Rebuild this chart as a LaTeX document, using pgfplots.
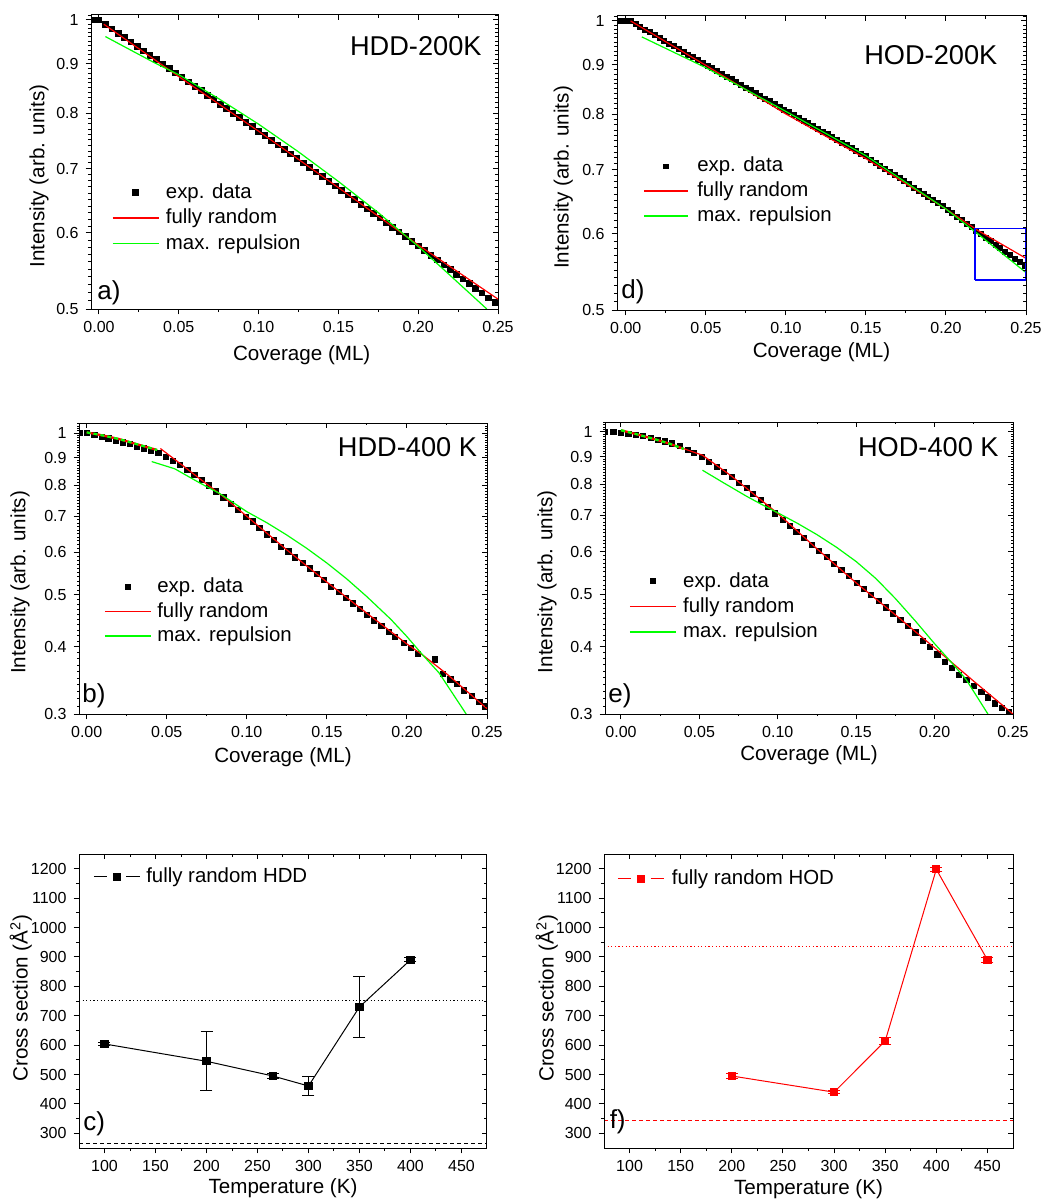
\documentclass[border=0pt]{standalone}
\usepackage{fontspec}
\setmainfont{Liberation Sans}
\usepackage{pgfplots}
\pgfplotsset{compat=1.18}
\newcommand{\fs}[1]{\fontsize{#1}{#1}\selectfont}
\pgfplotsset{
  zcommon/.style={scale only axis, anchor=south west, clip marker paths=true,
    axis line style={line width=0.5pt}, tick style={line width=0.5pt, black},
    major tick length=2.7pt, minor tick length=1.6pt,
    tick label style={font=\fs{8}}, label style={font=\fs{10.3}}},
  zbase/.style={zcommon, tick align=outside, xtick pos=left, ytick pos=left},
  zovl/.style={zcommon, tick align=inside, xtick pos=right, ytick pos=right, xticklabels={}, yticklabels={}},
  zcovx/.style={xmax=0.25, xtick={0,0.05,0.1,0.15,0.2,0.25}, minor xtick={0.025,0.075,0.125,0.175,0.225}},
  zcovlab/.style={xticklabels={0.00,0.05,0.10,0.15,0.20,0.25}, xlabel={Coverage (ML)}, ylabel={Intensity (arb. units)}},
  zlogA/.style={ymin=0.5, ymax=1.012, ytick={0.5,0.6,0.7,0.8,0.9,1}, minor ytick={0.51,0.52,0.53,0.54,0.55,0.56,0.57,0.58,0.59,0.61,0.62,0.63,0.64,0.65,0.66,0.67,0.68,0.69,0.71,0.72,0.73,0.74,0.75,0.76,0.77,0.78,0.79,0.81,0.82,0.83,0.84,0.85,0.86,0.87,0.88,0.89,0.91,0.92,0.93,0.94,0.95,0.96,0.97,0.98,0.99,1.01}},
  zlogAlab/.style={yticklabels={0.5,0.6,0.7,0.8,0.9,1}},
  zlogB/.style={ymin=0.3, ytick={0.3,0.4,0.5,0.6,0.7,0.8,0.9,1}, minor tick length=1pt, minor ytick={0.31,0.32,0.33,0.34,0.35,0.36,0.37,0.38,0.39,0.41,0.42,0.43,0.44,0.45,0.46,0.47,0.48,0.49,0.51,0.52,0.53,0.54,0.55,0.56,0.57,0.58,0.59,0.61,0.62,0.63,0.64,0.65,0.66,0.67,0.68,0.69,0.71,0.72,0.73,0.74,0.75,0.76,0.77,0.78,0.79,0.81,0.82,0.83,0.84,0.85,0.86,0.87,0.88,0.89,0.91,0.92,0.93,0.94,0.95,0.96,0.97,0.98,0.99,1.01,1.02,1.03,1.04}},
  zlogBlab/.style={yticklabels={0.3,0.4,0.5,0.6,0.7,0.8,0.9,1}},
  ztx/.style={xmin=75, xmax=475, xtick={100,150,200,250,300,350,400,450}, minor xtick={125,175,225,275,325,375,425}, ymin=250, ymax=1250, ytick={300,400,500,600,700,800,900,1000,1100,1200}, minor ytick={350,450,550,650,750,850,950,1050,1150}},
  ztxlab/.style={xticklabels={100,150,200,250,300,350,400,450}, yticklabels={300,400,500,600,700,800,900,1000,1100,1200}, xlabel={Temperature (K)}, ylabel={Cross section (\AA\textsuperscript{2})}},
  zlg/.style={legend cell align=left,
    legend style={draw=none, fill=none, inner sep=0pt, outer sep=0pt, anchor=north west, font=\fs{10.2}, nodes={inner sep=0pt, outer sep=0pt}, column sep=3.3pt}}
}
\begin{document}
\begin{tikzpicture}
\useasboundingbox (0,0) rectangle (529pt,-600.5pt);

% ---------------- panel a
\begin{axis}[zbase, ymode=log, at={(45.5pt,-154.5pt)}, width=203.5pt, height=147pt, xmin=-0.005, zcovx, zlogA, zcovlab, zlogAlab,
  xlabel style={at={(axis description cs:0.5177,-0.1565)}, anchor=center},
  ylabel style={at={(axis description cs:-0.1278,0.452)}, anchor=center},
  zlg, legend style={at={(0.0509,0.4259)}, row sep=3.8pt},
  legend image code/.code={\draw[mark repeat=2,mark phase=2,#1] plot coordinates {(0pt,0pt) (11.5pt,0pt) (23pt,0pt)};}]
\addlegendimage{only marks, mark=square*, mark size=1.4pt, black}
\addlegendentry{exp. data}
\addlegendimage{red, line width=0.8pt}
\addlegendentry{fully random}
\addlegendimage{green, line width=0.8pt}
\addlegendentry{max. repulsion}
\addplot[only marks, mark=square*, mark size=1.4pt, black, forget plot] coordinates {(-0.004,1.0)(0,1.0)(0.004,0.9896)(0.008,0.9792)(0.012,0.969)(0.016,0.9588)(0.02,0.9488)(0.024,0.9388)(0.028,0.9289)(0.032,0.9192)(0.036,0.9095)(0.04,0.8999)(0.044,0.8903)(0.048,0.8809)(0.052,0.8716)(0.056,0.8623)(0.06,0.8532)(0.064,0.8441)(0.068,0.8351)(0.072,0.8262)(0.076,0.8173)(0.08,0.8086)(0.084,0.7999)(0.088,0.7913)(0.092,0.7828)(0.096,0.7744)(0.1,0.7661)(0.104,0.7578)(0.108,0.7496)(0.112,0.7415)(0.116,0.7335)(0.12,0.7255)(0.124,0.7176)(0.128,0.7098)(0.132,0.7021)(0.136,0.6944)(0.14,0.6868)(0.144,0.6793)(0.148,0.6719)(0.152,0.6645)(0.156,0.6572)(0.16,0.65)(0.164,0.6429)(0.168,0.6358)(0.172,0.6288)(0.176,0.6219)(0.18,0.615)(0.184,0.6081)(0.188,0.6014)(0.192,0.5947)(0.196,0.5881)(0.2,0.5816)(0.204,0.5751)(0.208,0.5687)(0.212,0.5623)(0.216,0.556)(0.22,0.5498)(0.224,0.5436)(0.228,0.5375)(0.232,0.5315)(0.236,0.5255)(0.24,0.5196)(0.244,0.5137)(0.248,0.5079)};
\addplot[red, line width=0.6pt, forget plot] coordinates {(0.003,0.990)(0.05,0.873)(0.10,0.766)(0.15,0.669)(0.20,0.583)(0.25,0.512)};
\addplot[green, line width=0.6pt, forget plot] coordinates {(0.004,0.961)(0.035,0.902)(0.05,0.877)(0.075,0.828)(0.10,0.779)(0.125,0.729)(0.15,0.679)(0.175,0.630)(0.20,0.581)(0.22,0.542)(0.243,0.500)};
\end{axis}
\begin{axis}[zovl, ymode=log, at={(45.5pt,-154.5pt)}, width=203.5pt, height=147pt, xmin=-0.005, zcovx, zlogA]
\end{axis}

% ---------------- panel d
\begin{axis}[zbase, ymode=log, at={(308.5pt,-155pt)}, width=204.5pt, height=147pt, xmin=-0.0055, zcovx, zlogA, zcovlab, zlogAlab,
  xlabel style={at={(axis description cs:0.5,-0.1418)}, anchor=center},
  ylabel style={at={(axis description cs:-0.1313,0.4507)}, anchor=center},
  zlg, legend style={at={(0.0643,0.5197)}, row sep=3.55pt, column sep=4.5pt},
  legend image code/.code={\draw[mark repeat=2,mark phase=2,#1] plot coordinates {(0pt,0pt) (10.85pt,0pt) (21.7pt,0pt)};}]
\addlegendimage{only marks, mark=square*, mark size=1.1pt, black}
\addlegendentry{exp. data}
\addlegendimage{red, line width=0.8pt}
\addlegendentry{fully random}
\addlegendimage{green, line width=0.8pt}
\addlegendentry{max. repulsion}
\addplot[only marks, mark=square*, mark size=1.25pt, black, forget plot] coordinates {(-0.003,1.0)(0,1.0)(0.003,0.999)(0.006,0.9924)(0.009,0.9859)(0.012,0.9794)(0.015,0.973)(0.018,0.9666)(0.021,0.9602)(0.024,0.9539)(0.027,0.9476)(0.03,0.9414)(0.033,0.9352)(0.036,0.929)(0.039,0.9229)(0.042,0.9169)(0.045,0.9108)(0.048,0.9048)(0.051,0.8989)(0.054,0.893)(0.057,0.8871)(0.06,0.8813)(0.063,0.8755)(0.066,0.8697)(0.069,0.864)(0.072,0.8583)(0.075,0.8527)(0.078,0.847)(0.081,0.8415)(0.084,0.8359)(0.087,0.8304)(0.09,0.825)(0.093,0.8196)(0.096,0.8142)(0.099,0.8088)(0.102,0.8035)(0.105,0.7982)(0.108,0.7929)(0.111,0.7877)(0.114,0.7825)(0.117,0.7774)(0.12,0.7723)(0.123,0.7672)(0.126,0.7621)(0.129,0.7571)(0.132,0.7521)(0.135,0.7472)(0.138,0.7423)(0.141,0.7374)(0.144,0.7326)(0.147,0.7277)(0.15,0.7229)(0.153,0.7175)(0.156,0.7122)(0.159,0.7069)(0.162,0.7016)(0.165,0.6964)(0.168,0.6912)(0.171,0.686)(0.174,0.6809)(0.177,0.6758)(0.18,0.6708)(0.183,0.6657)(0.186,0.6608)(0.189,0.6558)(0.192,0.6509)(0.195,0.646)(0.198,0.6412)(0.201,0.6362)(0.204,0.6309)(0.207,0.6256)(0.21,0.6204)(0.213,0.6152)(0.216,0.61)(0.219,0.6049)(0.222,0.5999)(0.225,0.5949)(0.228,0.5899)(0.231,0.585)(0.234,0.5801)(0.237,0.5752)(0.24,0.5704)(0.243,0.5657)(0.246,0.5609)(0.249,0.5562)};
\addplot[red, line width=0.6pt, forget plot] coordinates {(0.003,1.0)(0.05,0.899)(0.10,0.800)(0.15,0.719)(0.20,0.637)(0.22,0.605)(0.25,0.566)};
\addplot[green, line width=0.6pt, forget plot] coordinates {(0.010,0.9625)(0.05,0.894)(0.10,0.805)(0.15,0.724)(0.20,0.637)(0.22,0.600)(0.25,0.547)};
\addplot[blue, line width=0.75pt, forget plot] coordinates {(0.2182,0.537)(0.25,0.537)(0.25,0.608)(0.2182,0.608)(0.2182,0.537)};
\end{axis}
\begin{axis}[zovl, ymode=log, at={(308.5pt,-155pt)}, width=204.5pt, height=147pt, xmin=-0.0055, zcovx, zlogA]
\end{axis}

% ---------------- panel b
\begin{axis}[zbase, ymode=log, at={(39.5pt,-357pt)}, width=204pt, height=145.5pt, xmin=-0.0048, ymax=1.044, zcovx, zlogB, zcovlab, zlogBlab,
  xlabel style={at={(axis description cs:0.5,-0.1467)}, anchor=center},
  ylabel style={at={(axis description cs:-0.1446,0.452)}, anchor=center},
  zlg, legend style={at={(0.0613,0.468)}, row sep=3.4pt, column sep=2.85pt},
  legend image code/.code={\draw[mark repeat=2,mark phase=2,#1] plot coordinates {(0pt,0pt) (11.5pt,0pt) (23pt,0pt)};}]
\addlegendimage{only marks, mark=square*, mark size=1.3pt, black}
\addlegendentry{exp. data}
\addlegendimage{red, line width=0.8pt}
\addlegendentry{fully random}
\addlegendimage{green, line width=0.8pt}
\addlegendentry{max. repulsion}
\addplot[only marks, mark=square*, mark size=1.3pt, black, forget plot] coordinates {(-0.0042,1.0)(0,1.0)(0.0048,0.991)(0.0094,0.984)(0.0135,0.977)(0.0181,0.968)(0.0225,0.961)(0.0271,0.953)(0.0313,0.944)(0.0358,0.936)(0.04,0.928)(0.0448,0.918)(0.0494,0.904)(0.0538,0.887)(0.0583,0.873)(0.0629,0.855)(0.0673,0.836)(0.0719,0.819)(0.0765,0.799)(0.0808,0.779)(0.0854,0.759)(0.09,0.738)(0.0946,0.72)(0.0994,0.699)(0.1038,0.685)(0.1079,0.667)(0.1125,0.648)(0.1171,0.633)(0.1215,0.615)(0.126,0.602)(0.1302,0.587)(0.1348,0.574)(0.1392,0.56)(0.1438,0.547)(0.1479,0.533)(0.1527,0.518)(0.1573,0.506)(0.1619,0.493)(0.1663,0.482)(0.1708,0.47)(0.175,0.459)(0.1796,0.448)(0.184,0.438)(0.1885,0.427)(0.1927,0.417)(0.1979,0.407)(0.2025,0.398)(0.2069,0.388)(0.2177,0.379)(0.2223,0.356)(0.2271,0.348)(0.2313,0.341)(0.2358,0.332)(0.2406,0.324)(0.2452,0.316)(0.249,0.31)};
\addplot[red, line width=0.6pt, forget plot] coordinates {(0.046,0.936)(0.06,0.870)(0.07,0.825)(0.085,0.763)(0.10,0.700)(0.125,0.606)(0.15,0.528)(0.175,0.462)(0.20,0.405)(0.21,0.386)(0.225,0.356)(0.25,0.307)};
\addplot[green, line width=0.6pt, forget plot] coordinates {(0.0406,0.885)(0.055,0.858)(0.0708,0.807)(0.083,0.772)(0.10,0.714)(0.1125,0.681)(0.125,0.646)(0.1375,0.610)(0.15,0.573)(0.1625,0.535)(0.175,0.496)(0.19,0.450)(0.20,0.418)(0.21,0.386)(0.22,0.358)(0.237,0.300)};
\addplot[red, line width=1.1pt, forget plot] coordinates {(0,1.003)(0.01,0.990)(0.02,0.975)(0.03,0.956)(0.044,0.930)};
\addplot[green, line width=1.1pt, dash pattern=on 2pt off 1.5pt, forget plot] coordinates {(0,1.003)(0.01,0.990)(0.02,0.975)(0.03,0.956)(0.044,0.930)};
\end{axis}
\begin{axis}[zovl, ymode=log, at={(39.5pt,-357pt)}, width=204pt, height=145.5pt, xmin=-0.0048, ymax=1.044, zcovx, zlogB]
\end{axis}

% ---------------- panel e
\begin{axis}[zbase, ymode=log, at={(302.5pt,-357pt)}, width=204pt, height=146pt, xmin=-0.0102, ymax=1.043, zcovx, zlogB, zcovlab, zlogBlab,
  xlabel style={at={(axis description cs:0.5,-0.1404)}, anchor=center},
  ylabel style={at={(axis description cs:-0.1422,0.453)}, anchor=center},
  zlg, legend style={at={(0.0588,0.4856)}, row sep=3.8pt},
  legend image code/.code={\draw[mark repeat=2,mark phase=2,#1] plot coordinates {(0pt,0pt) (11.5pt,0pt) (23pt,0pt)};}]
\addlegendimage{only marks, mark=square*, mark size=1.3pt, black}
\addlegendentry{exp. data}
\addlegendimage{red, line width=0.8pt}
\addlegendentry{fully random}
\addlegendimage{green, line width=0.8pt}
\addlegendentry{max. repulsion}
\addplot[only marks, mark=square*, mark size=1.3pt, black, forget plot] coordinates {(-0.0102,1.0)(-0.0049,1.0)(0,0.997)(0.0047,0.993)(0.0093,0.987)(0.0142,0.982)(0.0189,0.975)(0.0234,0.968)(0.028,0.96)(0.0327,0.952)(0.0376,0.941)(0.0425,0.927)(0.0467,0.914)(0.0514,0.899)(0.0563,0.88)(0.061,0.861)(0.0658,0.843)(0.0705,0.825)(0.0754,0.804)(0.0801,0.788)(0.0843,0.767)(0.089,0.747)(0.0939,0.726)(0.0981,0.706)(0.103,0.688)(0.1077,0.67)(0.1119,0.653)(0.1168,0.636)(0.1219,0.617)(0.1264,0.601)(0.1311,0.587)(0.1359,0.57)(0.1406,0.555)(0.1453,0.541)(0.1502,0.525)(0.1548,0.512)(0.1593,0.498)(0.1644,0.486)(0.1689,0.473)(0.1735,0.461)(0.1782,0.448)(0.1831,0.437)(0.1878,0.425)(0.1927,0.41)(0.1969,0.399)(0.2018,0.387)(0.2065,0.375)(0.2111,0.365)(0.2156,0.355)(0.2203,0.347)(0.2249,0.338)(0.2298,0.33)(0.2341,0.322)(0.2383,0.314)(0.243,0.308)(0.2473,0.302)};
\addplot[red, line width=0.6pt, forget plot] coordinates {(0.035,0.942)(0.052,0.905)(0.07,0.830)(0.09,0.745)(0.10,0.706)(0.125,0.607)(0.15,0.525)(0.175,0.458)(0.20,0.398)(0.225,0.345)(0.25,0.300)};
\addplot[green, line width=0.6pt, forget plot] coordinates {(0.052,0.849)(0.065,0.806)(0.08,0.760)(0.09,0.733)(0.10,0.708)(0.1125,0.677)(0.125,0.645)(0.1375,0.611)(0.15,0.575)(0.1625,0.535)(0.175,0.491)(0.1875,0.447)(0.20,0.405)(0.21,0.376)(0.22,0.348)(0.234,0.300)};
\addplot[red, line width=1.1pt, forget plot] coordinates {(0,1.007)(0.01,0.990)(0.02,0.972)(0.03,0.953)(0.04,0.930)};
\addplot[green, line width=1.1pt, dash pattern=on 2pt off 1.5pt, forget plot] coordinates {(0,1.007)(0.01,0.990)(0.02,0.972)(0.03,0.953)(0.04,0.930)};
\end{axis}
\begin{axis}[zovl, ymode=log, at={(302.5pt,-357pt)}, width=204pt, height=146pt, xmin=-0.0102, ymax=1.043, zcovx, zlogB]
\end{axis}

% ---------------- panel c
\begin{axis}[zbase, at={(39.5pt,-574pt)}, width=204pt, height=147pt, ztx, ztxlab,
  xlabel style={at={(axis description cs:0.5,-0.136)}, anchor=center},
  ylabel style={at={(axis description cs:-0.1429,0.51)}, anchor=center},
  zlg, legend style={at={(0.0355,0.953)}, column sep=3.1pt},
  legend image code/.code={\draw[#1, mark=none] (0pt,0pt) -- (6.6pt,0pt); \draw[#1, mark=none] (16.2pt,0pt) -- (22.8pt,0pt); \draw[#1, only marks] plot coordinates {(11.4pt,0pt)};}]
\addlegendimage{black, line width=0.5pt, mark=square*, mark size=1.8pt}
\addlegendentry{fully random HDD}
\addplot[black, line width=0.5pt, dash pattern=on 0.6pt off 1.2pt, forget plot] coordinates {(75,753)(475,753)};
\addplot[black, line width=0.5pt, dash pattern=on 2pt off 1.5pt, forget plot] coordinates {(75,266)(475,266)};
\addplot[black, line width=0.5pt, mark=square*, mark size=1.8pt, forget plot, error bars/y dir=both, error bars/y explicit, error bars/error bar style={line width=0.5pt}, error bars/error mark options={rotate=90, mark size=3pt, line width=0.5pt}] coordinates {(100,604) +- (0,5) (200,545) +- (0,100) (265,495) +- (0,8) (300,461) +- (0,31) (350,730) +- (0,103) (400,890) +- (0,7)};
\end{axis}
\begin{axis}[zovl, at={(39.5pt,-574pt)}, width=204pt, height=147pt, ztx]
\end{axis}

% ---------------- panel f
\begin{axis}[zbase, at={(302pt,-574pt)}, width=204.5pt, height=147pt, ztx, ztxlab,
  xlabel style={at={(axis description cs:0.5,-0.1405)}, anchor=center},
  ylabel style={at={(axis description cs:-0.1401,0.509)}, anchor=center},
  zlg, legend style={at={(0.0325,0.946)}, column sep=3.7pt},
  legend image code/.code={\draw[#1, mark=none] (0pt,0pt) -- (6.6pt,0pt); \draw[#1, mark=none] (16.4pt,0pt) -- (23pt,0pt); \draw[#1, only marks] plot coordinates {(11.5pt,0pt)};}]
\addlegendimage{red, line width=0.6pt, mark=square*, mark size=1.8pt}
\addlegendentry{fully random HOD}
\addplot[red, line width=0.5pt, dash pattern=on 0.6pt off 1.2pt, forget plot] coordinates {(75,936)(475,936)};
\addplot[red, line width=0.5pt, dash pattern=on 2pt off 1.5pt, forget plot] coordinates {(75,342)(475,342)};
\addplot[red, line width=0.5pt, mark=square*, mark size=1.8pt, forget plot, error bars/y dir=both, error bars/y explicit, error bars/error bar style={line width=0.5pt}, error bars/error mark options={rotate=90, mark size=3pt, line width=0.5pt}] coordinates {(200,495) +- (0,8) (300,440) +- (0,6) (350,614) +- (0,12) (400,1198) +- (0,7) (450,890) +- (0,8)};
\end{axis}
\begin{axis}[zovl, at={(302pt,-574pt)}, width=204.5pt, height=147pt, ztx]
\end{axis}

% ---------------- titles and panel letters
\node[font=\fs{13.6}, inner sep=0pt] at (207.9pt,-22.85pt) {HDD-200K};
\node[font=\fs{13.6}, inner sep=0pt] at (465.4pt,-27.5pt) {HOD-200K};
\node[font=\fs{13.6}, inner sep=0pt] at (203.75pt,-223.75pt) {HDD-400 K};
\node[font=\fs{13.6}, inner sep=0pt] at (464.15pt,-223.75pt) {HOD-400 K};
\node[font=\fs{13}, inner sep=0pt] at (54.5pt,-146.5pt) {a)};
\node[font=\fs{13}, inner sep=0pt] at (316.5pt,-146pt) {d)};
\node[font=\fs{13}, inner sep=0pt] at (47pt,-348pt) {b)};
\node[font=\fs{13}, inner sep=0pt] at (310pt,-347.75pt) {e)};
\node[font=\fs{13}, inner sep=0pt] at (47.15pt,-562pt) {c)};
\node[font=\fs{13}, inner sep=0pt] at (308.85pt,-560.85pt) {f)};
\end{tikzpicture}
\end{document}
